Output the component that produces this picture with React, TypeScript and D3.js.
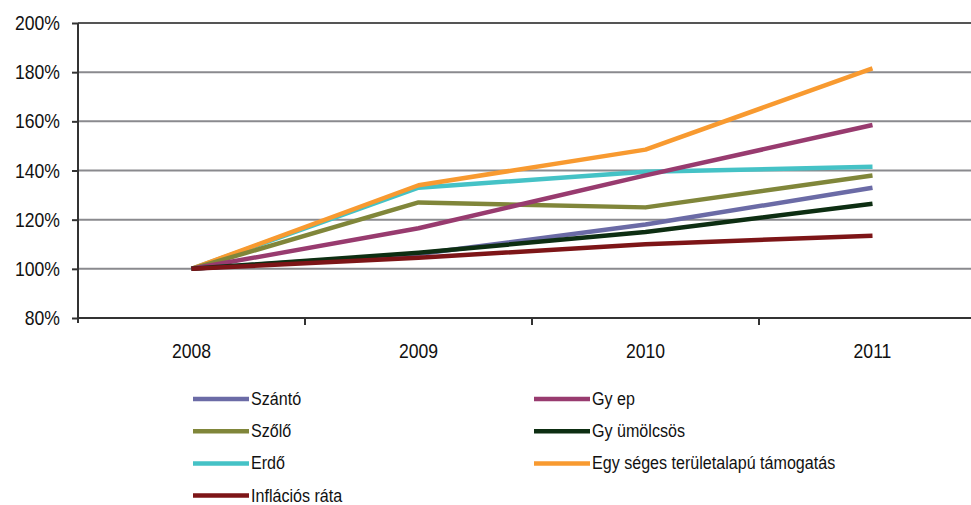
import * as d3 from 'd3';
import React, { useRef, useEffect } from 'react';

const years = ['2008', '2009', '2010', '2011'];
const yTicks = [80, 100, 120, 140, 160, 180, 200];

const seriesNames = ['Szántó', 'Gy ep', 'Szőlő', 'Gy ümölcsös', 'Erdő', 'Egy séges területalapú támogatás', 'Inflációs ráta'];
const seriesColors = ['#6b6ba6', '#983b6f', '#80863a', '#0d2e12', '#45c2c6', '#f89a30', '#7d1517'];

const szanto = [100, 106, 118, 133];
const gyep = [100, 116.5, 138, 158.5];
const szolo = [100, 127, 125, 138];
const gyumolcsos = [100, 106.5, 115, 126.5];
const erdo = [100, 133, 139.5, 141.5];
const egyseges = [100, 134, 148.5, 181.5];
const inflacio = [100, 104.5, 110, 113.5];

const seriesValues = [szanto, gyep, szolo, gyumolcsos, erdo, egyseges, inflacio];
// drawing order (front-most last)
const drawOrder = [4, 5, 2, 1, 0, 3, 6];

const FONT = '"Liberation Sans", Arial, sans-serif';

const App = () => {
  const ref = useRef(null);
  const width = 971, height = 505;
  const margin = { top: 23, left: 78, bottom: 318 };

  useEffect(() => {
    const svg = d3.select(ref.current);
    svg.selectAll('*').remove();

    const x = d3.scaleBand().domain(years).range([margin.left, margin.left + 4 * 227]);
    const y = d3.scaleLinear().domain([80, 200]).range([margin.bottom, margin.top]);

    // squeezed text, like the narrow font of the original
    const label = (g, tx, ty, txt, size, anchor, sx) => {
      g.append('g')
        .attr('transform', 'translate(' + tx + ',' + ty + ') scale(' + sx + ',1)')
        .append('text')
        .attr('text-anchor', anchor)
        .attr('fill', '#111')
        .style('font-family', FONT)
        .style('font-size', size + 'px')
        .text(txt);
    };

    // gridlines
    svg.append('g')
      .selectAll('line')
      .data(yTicks.filter((t) => t > 80))
      .join('line')
      .attr('x1', margin.left).attr('x2', width)
      .attr('y1', (d) => y(d)).attr('y2', (d) => y(d))
      .attr('stroke', (d) => (d === 200 ? '#555' : '#8a8a8e'))
      .attr('stroke-width', 2);

    // y axis
    const yAxis = svg.append('g')
      .attr('transform', 'translate(' + margin.left + ',0)')
      .call(d3.axisLeft(y).tickValues(yTicks).tickSize(6).tickFormat(() => ''));
    yAxis.select('.domain').attr('stroke', '#333').attr('stroke-width', 2).attr('d', 'M0,' + margin.top + 'V' + (margin.bottom + 5));
    yAxis.selectAll('.tick line').attr('stroke', '#333').attr('stroke-width', 2);
    yTicks.forEach((t) => label(svg, margin.left - 18, y(t) + 7, t + '%', 20, 'end', 0.88));

    // x axis
    const xAxis = svg.append('g').attr('transform', 'translate(0,' + margin.bottom + ')');
    xAxis.append('line')
      .attr('x1', margin.left).attr('x2', width)
      .attr('stroke', '#333').attr('stroke-width', 2);
    xAxis.selectAll('line.tk')
      .data(years.slice(1))
      .join('line')
      .attr('class', 'tk')
      .attr('x1', (d) => x(d)).attr('x2', (d) => x(d))
      .attr('y1', 0).attr('y2', 7)
      .attr('stroke', '#333').attr('stroke-width', 2);
    years.forEach((yr) => label(svg, x(yr) + x.bandwidth() / 2, margin.bottom + 40, yr, 20, 'middle', 0.88));

    const line = d3.line()
      .x((d, i) => x(years[i]) + x.bandwidth() / 2)
      .y((d) => y(d));

    drawOrder.forEach((k) => {
      svg.append('path')
        .datum(seriesValues[k])
        .attr('fill', 'none')
        .attr('stroke', seriesColors[k])
        .attr('stroke-width', 4.5)
        .attr('stroke-linejoin', 'round')
        .attr('d', line);
    });

    // legend, two columns
    const lg = svg.append('g');
    seriesNames.forEach((name, i) => {
      const col = i % 2;
      const row = Math.floor(i / 2);
      const lx = col === 0 ? 193 : 534;
      const ly = 399 + row * 32.2;
      lg.append('line')
        .attr('x1', lx).attr('x2', lx + 56)
        .attr('y1', ly).attr('y2', ly)
        .attr('stroke', seriesColors[i]).attr('stroke-width', 4.5);
      label(lg, lx + 58, ly + 6, name, 18.5, 'start', 0.87);
    });
  });

  return (
    <svg ref={ref} width={width} height={height} style={{ display: 'block', position: 'absolute', left: 0, top: 0 }}></svg>
  );
};

export default App;
